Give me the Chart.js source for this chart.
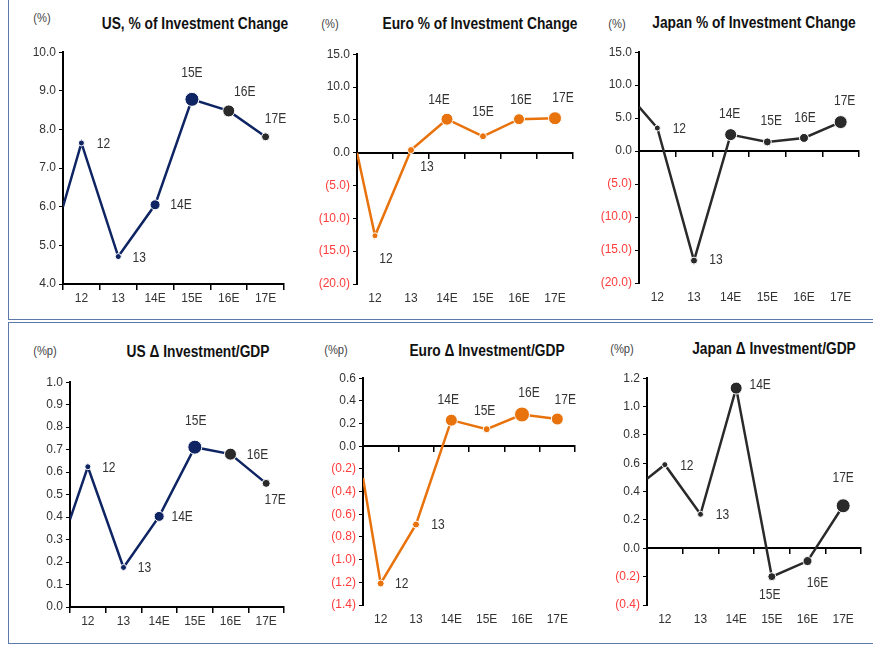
<!DOCTYPE html>
<html>
<head>
<meta charset="utf-8">
<script src="https://cdn.jsdelivr.net/npm/chart.js@4.4.1/dist/chart.umd.min.js"></script>
<style>
  html, body { margin: 0; padding: 0; background: #fff; }
  body { width: 873px; height: 645px; position: relative; overflow: hidden;
         font-family: 'Liberation Sans', Arial, sans-serif; }
  .frame { position: absolute; border-left: 1.5px solid #5b7aab; border-bottom: 1.5px solid #5b7aab; box-sizing: border-box; }
  .frame.bottom { border-top: 1.5px solid #5b7aab; }
  .title { position: absolute; white-space: nowrap; transform: translateX(-50%) scaleX(0.86);
           font-weight: bold; font-size: 16px; line-height: 18px; color: #111; }
  .unit { position: absolute; white-space: nowrap; transform: translateX(-50%) scaleX(0.86);
          font-size: 13px; line-height: 14px; color: #444; }
  canvas { position: absolute; }
</style>
</head>
<body>
<div class="frame" style="left:8px; top:-2px; width:870px; height:322px;"></div>
<div class="frame bottom" style="left:8px; top:322px; width:870px; height:322px;"></div>
<script>
// ---- categories (x-axis tick labels) ----
const categories = ['12', '13', '14E', '15E', '16E', '17E'];

// ---- series values (first value of each line sits on the y-axis, i.e. the prior year) ----
const usInvChangePrior = 6.0;
const usInvChange = [7.65, 4.71, 6.05, 8.78, 8.48, 7.81];
const euroInvChangePrior = 0.0;
const euroInvChange = [-12.65, 0.4, 5.1, 2.5, 5.1, 5.25];
const japanInvChangePrior = 6.7;
const japanInvChange = [3.5, -16.6, 2.5, 1.4, 2.0, 4.4];

const usInvGdpPrior = 0.39;
const usInvGdp = [0.624, 0.176, 0.403, 0.711, 0.68, 0.55];
const euroInvGdpPrior = -0.28;
const euroInvGdp = [-1.21, -0.69, 0.23, 0.15, 0.28, 0.24];
const japanInvGdpPrior = 0.49;
const japanInvGdp = [0.59, 0.24, 1.13, -0.2, -0.09, 0.30];

// ---- y-axis tick ranges [min, max, step] ----
const usChangeTicks = [4, 10, 1];
const euroChangeTicks = [-20, 15, 5];
const japanChangeTicks = [-20, 15, 5];
const usGdpTicks = [0, 1, 0.1];
const euroGdpTicks = [-1.4, 0.6, 0.2];
const japanGdpTicks = [-0.4, 1.2, 0.2];

// ---- styles ----
const NAVY = '#0e2463';
const DARK = '#2a2a2a';
const ORANGE = '#e8720c';
const RED = '#ff3b3b';
const TXT = '#333333';
const FONT = "'Liberation Sans', Arial, sans-serif";

const panels = [
  { title: 'US, % of Investment Change', unit: '(%)', prior: usInvChangePrior, values: usInvChange, ticks: usChangeTicks,
    rect: [63, 52, 284, 284], color: NAVY, pointColors: [NAVY, NAVY, NAVY, NAVY, DARK, DARK],
    radii: [3, 3, 5, 7, 6, 4], labelOffsets: [[22, 1], [21, 2], [26, 0], [0, -26], [16, -19], [10, -18]],
    titlePos: [195, 24], unitPos: [42, 18] },
  { title: 'Euro % of Investment Change', unit: '(%)', prior: euroInvChangePrior, values: euroInvChange, ticks: euroChangeTicks,
    rect: [357, 54, 573, 284], color: ORANGE, pointColors: Array(6).fill(ORANGE),
    radii: [3, 3.5, 6, 3.5, 5.5, 6.5], labelOffsets: [[11, 23], [16, 17], [-8, -19], [0, -24], [2, -19], [8, -20]],
    titlePos: [480, 24], unitPos: [330, 24] },
  { title: 'Japan % of Investment Change', unit: '(%)', prior: japanInvChangePrior, values: japanInvChange, ticks: japanChangeTicks,
    rect: [639, 52, 859, 283], color: DARK, pointColors: Array(6).fill(DARK),
    radii: [3, 3.5, 6, 4, 4.5, 6.5], labelOffsets: [[22, 1], [22, 0], [-1, -20], [4, -21], [1, -20], [4, -21]],
    titlePos: [754, 23], unitPos: [617, 24] },
  { title: 'US \u0394 Investment/GDP', unit: '(%p)', prior: usInvGdpPrior, values: usInvGdp, ticks: usGdpTicks,
    rect: [70, 382, 284, 607], color: NAVY, pointColors: [NAVY, NAVY, NAVY, NAVY, DARK, DARK],
    radii: [3, 3, 5, 7, 6, 4], labelOffsets: [[21, 1], [21, 1], [23, 1], [1, -26], [27, 1], [9, 17]],
    titlePos: [198, 352], unitPos: [45, 351] },
  { title: 'Euro \u0394 Investment/GDP', unit: '(%p)', prior: euroInvGdpPrior, values: euroInvGdp, ticks: euroGdpTicks,
    rect: [363, 378, 575, 605], color: ORANGE, pointColors: Array(6).fill(ORANGE),
    radii: [3.5, 3.5, 6, 3.5, 7.5, 6], labelOffsets: [[21, 1], [22, 1], [-3, -20], [-2, -18], [7, -21], [8, -19]],
    titlePos: [487, 351], unitPos: [336, 350] },
  { title: 'Japan \u0394 Investment/GDP', unit: '(%p)', prior: japanInvGdpPrior, values: japanInvGdp, ticks: japanGdpTicks,
    rect: [647, 378, 861, 605], color: DARK, pointColors: Array(6).fill(DARK),
    radii: [3, 3, 6, 4, 4.5, 7], labelOffsets: [[22, 1], [22, 1], [24, -3], [-2, 18], [10, 22], [0, -28]],
    titlePos: [774, 349], unitPos: [622, 349] }
];

const Y_AXIS_W = 50, X_AXIS_H = 30, PAD_TOP = 10, PAD_RIGHT = 10;

const pointLabelPlugin = {
  id: 'pointLabels',
  afterDatasetsDraw(chart) {
    const cfg = chart.options.plugins.pointLabels;
    const meta = chart.getDatasetMeta(0);
    const ctx = chart.ctx;
    categories.forEach((c, i) => {
      const el = meta.data[i + 1];
      const off = cfg.offsets[i];
      ctx.save();
      ctx.translate(el.x + off[0], el.y + off[1]);
      ctx.scale(0.86, 1);
      ctx.font = '14px ' + FONT;
      ctx.fillStyle = TXT;
      ctx.textAlign = 'center';
      ctx.textBaseline = 'middle';
      ctx.fillText(c, 0, 0);
      ctx.restore();
    });
  }
};

function fmt(v) {
  const r = Math.round(v * 10) / 10;
  if (r < 0) return '(' + Math.abs(r).toFixed(1) + ')';
  return (r === 0 ? 0 : r).toFixed(1);
}

panels.forEach((p) => {
  const [L, T, R, B] = p.rect;
  const cv = document.createElement('canvas');
  const w = R - L + Y_AXIS_W + PAD_RIGHT;
  const h = B - T + PAD_TOP + X_AXIS_H;
  cv.width = w; cv.height = h;
  cv.style.left = (L - Y_AXIS_W) + 'px';
  cv.style.top = (T - PAD_TOP) + 'px';
  cv.style.width = w + 'px'; cv.style.height = h + 'px';
  document.body.appendChild(cv);

  const t = document.createElement('div');
  t.className = 'title'; t.textContent = p.title;
  t.style.left = p.titlePos[0] + 'px'; t.style.top = (p.titlePos[1] - 9) + 'px';
  document.body.appendChild(t);
  const u = document.createElement('div');
  u.className = 'unit'; u.textContent = p.unit;
  u.style.left = p.unitPos[0] + 'px'; u.style.top = (p.unitPos[1] - 7) + 'px';
  document.body.appendChild(u);

  const [ymin, ymax, ystep] = p.ticks;
  const base = Math.max(0, ymin);
  const points = [{ x: 0, y: p.prior }].concat(p.values.map((v, i) => ({ x: i + 0.5, y: v })));

  new Chart(cv, {
    type: 'line',
    data: {
      datasets: [{
        data: points,
        borderColor: p.color,
        borderWidth: 2.5,
        tension: 0,
        pointRadius: [0].concat(p.radii),
        pointBackgroundColor: [p.color].concat(p.pointColors),
        pointBorderColor: '#ffffff',
        pointBorderWidth: 1,
        xAxisID: 'x',
        yAxisID: 'y'
      }]
    },
    options: {
      responsive: false,
      animation: false,
      events: [],
      layout: { padding: { left: 0, top: PAD_TOP, right: PAD_RIGHT, bottom: 0 } },
      plugins: {
        legend: { display: false },
        tooltip: { enabled: false },
        pointLabels: { offsets: p.labelOffsets }
      },
      scales: {
        x: {
          type: 'linear', min: 0, max: 6, position: 'bottom',
          afterBuildTicks: s => { s.ticks = categories.map((c, i) => ({ value: i + 0.5 })); },
          ticks: {
            autoSkip: false, maxRotation: 0, padding: 7, color: TXT,
            font: { family: FONT, size: 12 },
            callback: v => categories[Math.round(v - 0.5)]
          },
          grid: { display: false, drawTicks: false },
          border: { display: false },
          afterFit: s => { s.height = X_AXIS_H; }
        },
        x2: {
          type: 'linear', axis: 'x', min: 0, max: 6, position: { y: base },
          ticks: { stepSize: 1, display: false },
          grid: { drawOnChartArea: false, drawTicks: true, tickLength: 5, color: '#000', lineWidth: 1.5 },
          border: { display: true, color: '#000', width: 2 }
        },
        y: {
          type: 'linear', min: ymin, max: ymax, position: 'left',
          ticks: {
            stepSize: ystep, padding: 3,
            font: { family: FONT, size: 12 },
            color: c => (c.tick && c.tick.value < -1e-9) ? RED : TXT,
            callback: v => fmt(v)
          },
          grid: { drawOnChartArea: false, drawTicks: true, tickLength: 4, color: '#000', lineWidth: 1 },
          border: { display: true, color: '#000', width: 2 },
          afterFit: s => { s.width = Y_AXIS_W; }
        }
      }
    },
    plugins: [pointLabelPlugin]
  });
});
</script>
</body>
</html>
